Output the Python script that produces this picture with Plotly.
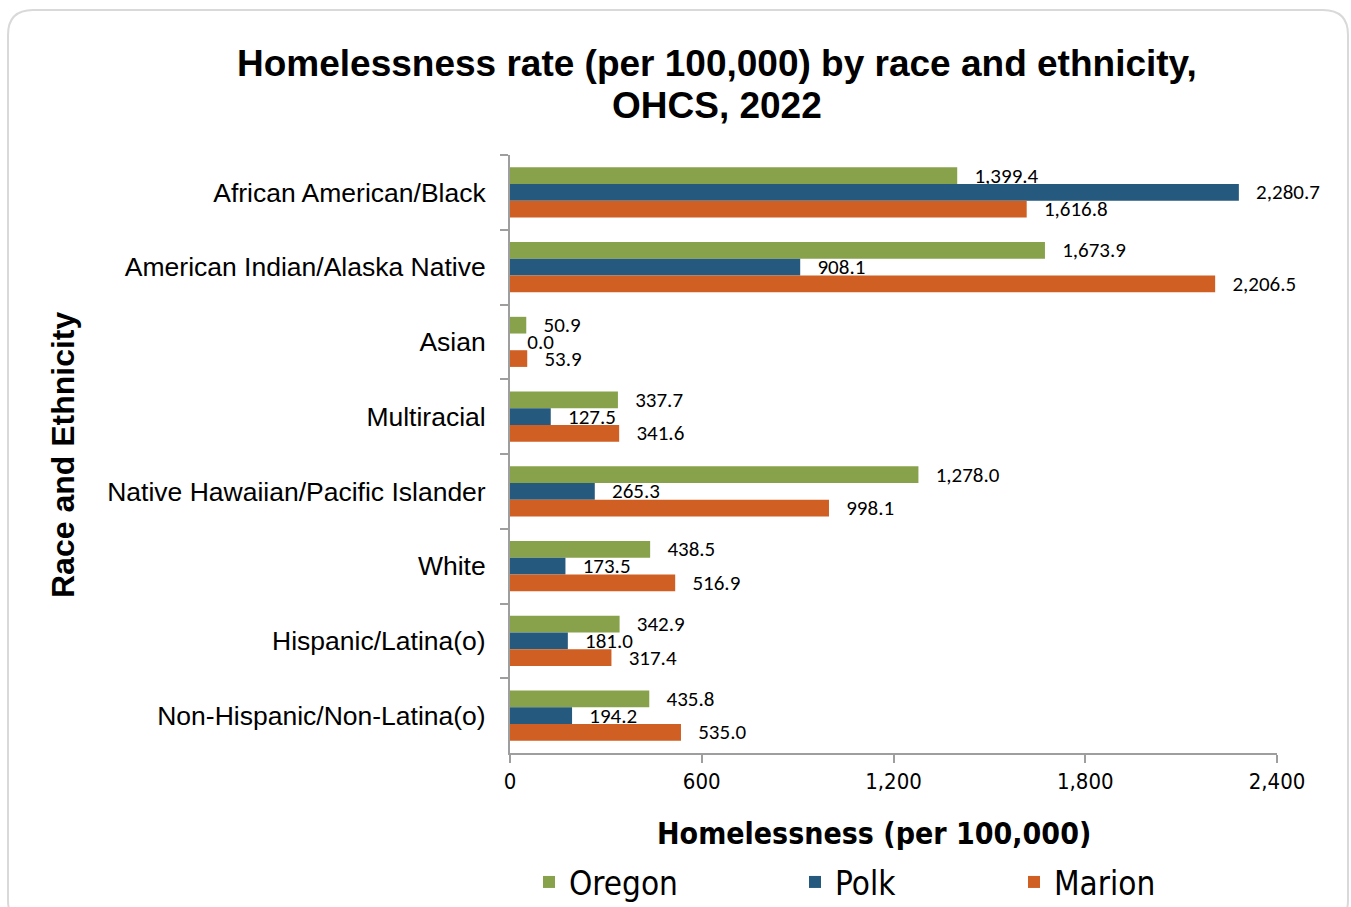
import plotly.graph_objects as go

categories = [
    "African American/Black",
    "American Indian/Alaska Native",
    "Asian",
    "Multiracial",
    "Native Hawaiian/Pacific Islander",
    "White",
    "Hispanic/Latina(o)",
    "Non-Hispanic/Non-Latina(o)",
]
oregon = [1399.4, 1673.9, 50.9, 337.7, 1278.0, 438.5, 342.9, 435.8]
polk = [2280.7, 908.1, 0.0, 127.5, 265.3, 173.5, 181.0, 194.2]
marion = [1616.8, 2206.5, 53.9, 341.6, 998.1, 516.9, 317.4, 535.0]
x_ticks = [0, 600, 1200, 1800, 2400]
x_tick_labels = ["0", "600", "1,200", "1,800", "2,400"]

series = [("Oregon", oregon, "#87A24B", "legend"),
          ("Polk", polk, "#255A7E", "legend2"),
          ("Marion", marion, "#CF5F23", "legend3")]
legend_x = [529, 795, 1014]

NARROW = "Liberation Sans Narrow, Arial Narrow, DejaVu Sans Condensed, sans-serif"
LABEL = "Carlito, Calibri, Lato, sans-serif"
ARIAL = "Liberation Sans, Arial, sans-serif"

fig = go.Figure()
for name, vals, color, lg in series:
    fig.add_trace(go.Bar(
        y=categories, x=vals, name=name, orientation="h", legend=lg,
        marker=dict(color=color, line=dict(width=0)),
        text=[f"{v:,.1f}" for v in vals],
        texttemplate="   %{text}",
        textposition="outside",
        constraintext="none",
        cliponaxis=False,
        textfont=dict(family=LABEL, size=21, color="#000"),
    ))

L, R, T, B = 510, 74, 155, 154
W, H = 1351, 907
pw, ph = W - L - R, H - T - B

def px(x):
    return (x - L) / pw

def py(y):
    return (H - B - y) / ph

# rounded border
x0, x1, y0, y1 = px(8), px(1348), py(10), py(925)
rx, ry = 25 / pw, 25 / ph
path = (f"M {x0+rx},{y0} L {x1-rx},{y0} Q {x1},{y0} {x1},{y0-ry} "
        f"L {x1},{y1+ry} Q {x1},{y1} {x1-rx},{y1} L {x0+rx},{y1} "
        f"Q {x0},{y1} {x0},{y1+ry} L {x0},{y0-ry} Q {x0},{y0} {x0+rx},{y0} Z")

def legend_cfg(xpix):
    return dict(orientation="h", xref="container", yref="container",
                x=xpix / W, xanchor="left", y=1 - 882 / H, yanchor="middle",
                font=dict(family=NARROW, size=33, color="#000"),
                itemwidth=30, bgcolor="rgba(0,0,0,0)")

fig.update_layout(
    width=W, height=H,
    margin=dict(l=L, r=R, t=T, b=B, autoexpand=False),
    paper_bgcolor="white", plot_bgcolor="white",
    barmode="group", bargap=0.33, bargroupgap=0,
    showlegend=True,
    legend=legend_cfg(legend_x[0]),
    legend2=legend_cfg(legend_x[1]),
    legend3=legend_cfg(legend_x[2]),
    xaxis=dict(range=[0, 2400], tickvals=x_ticks, ticktext=x_tick_labels,
               showgrid=False, zeroline=False, showline=True, linecolor="#9E9E9E", linewidth=2,
               ticks="outside", ticklen=8, tickcolor="#9E9E9E", tickwidth=2,
               tickfont=dict(family=NARROW, size=22, color="#000")),
    yaxis=dict(autorange="reversed", showgrid=False, zeroline=False, showline=True,
               linecolor="#9E9E9E", linewidth=2, ticks="outside", ticklen=8,
               tickcolor="#9E9E9E", tickwidth=2, tickson="boundaries",
               ticklabelstandoff=17,
               tickfont=dict(family=ARIAL, size=26.5, color="#000")),
    shapes=[dict(type="path", xref="paper", yref="paper", path=path,
                 line=dict(color="#D9D9D9", width=2), fillcolor="rgba(0,0,0,0)", layer="below")],
    annotations=[
        dict(text="<b>Homelessness rate (per 100,000) by race and ethnicity,</b>",
             xref="paper", yref="paper", x=px(717), y=py(63), xanchor="center", yanchor="middle",
             showarrow=False, font=dict(family=ARIAL, size=37, color="#000")),
        dict(text="<b>OHCS, 2022</b>",
             xref="paper", yref="paper", x=px(717), y=py(105), xanchor="center", yanchor="middle",
             showarrow=False, font=dict(family=ARIAL, size=37, color="#000")),
        dict(text="<b>Homelessness (per 100,000)</b>", xref="paper", yref="paper",
             x=px(874), y=py(833), xanchor="center", yanchor="middle", showarrow=False,
             font=dict(family=NARROW, size=30, color="#000")),
        dict(text="<b>Race and Ethnicity</b>", xref="paper", yref="paper",
             x=px(63), y=py(455), xanchor="center", yanchor="middle", showarrow=False,
             textangle=-90, font=dict(family=ARIAL, size=32, color="#000")),
    ],
)

fig.write_html("out.html", config={"displayModeBar": False},
               post_script="document.body.style.margin='0';")
